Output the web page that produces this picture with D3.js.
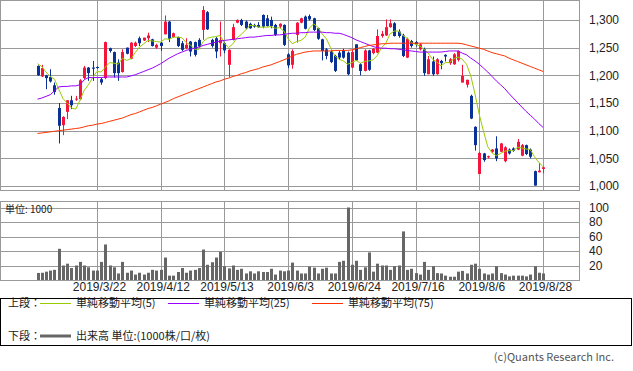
<!DOCTYPE html>
<html>
<head>
<meta charset="utf-8">
<script src="https://cdn.jsdelivr.net/npm/d3@7"></script>
<style>
  body { margin: 0; background: #fff; }
  svg { display: block; font-family: "Noto Sans CJK JP", "Noto Sans", sans-serif; }
</style>
</head>
<body>
<div class="chart"></div>
<script>
// trading days shown (2019/3/1 .. 2019/8/28)
const dates = [
  "2019/3/1","2019/3/4","2019/3/5","2019/3/6","2019/3/7","2019/3/8","2019/3/11","2019/3/12","2019/3/13","2019/3/14",
  "2019/3/15","2019/3/18","2019/3/19","2019/3/20","2019/3/22","2019/3/25","2019/3/26","2019/3/27","2019/3/28","2019/3/29",
  "2019/4/1","2019/4/2","2019/4/3","2019/4/4","2019/4/5","2019/4/8","2019/4/9","2019/4/10","2019/4/11","2019/4/12",
  "2019/4/15","2019/4/16","2019/4/17","2019/4/18","2019/4/19","2019/4/22","2019/4/23","2019/4/24","2019/4/25","2019/4/26",
  "2019/5/7","2019/5/8","2019/5/9","2019/5/10","2019/5/13","2019/5/14","2019/5/15","2019/5/16","2019/5/17","2019/5/20",
  "2019/5/21","2019/5/22","2019/5/23","2019/5/24","2019/5/27","2019/5/28","2019/5/29","2019/5/30","2019/5/31","2019/6/3",
  "2019/6/4","2019/6/5","2019/6/6","2019/6/7","2019/6/10","2019/6/11","2019/6/12","2019/6/13","2019/6/14","2019/6/17",
  "2019/6/18","2019/6/19","2019/6/20","2019/6/21","2019/6/24","2019/6/25","2019/6/26","2019/6/27","2019/6/28","2019/7/1",
  "2019/7/2","2019/7/3","2019/7/4","2019/7/5","2019/7/8","2019/7/9","2019/7/10","2019/7/11","2019/7/12","2019/7/16",
  "2019/7/17","2019/7/18","2019/7/19","2019/7/22","2019/7/23","2019/7/24","2019/7/25","2019/7/26","2019/7/29","2019/7/30",
  "2019/7/31","2019/8/1","2019/8/2","2019/8/5","2019/8/6","2019/8/7","2019/8/8","2019/8/9","2019/8/13","2019/8/14",
  "2019/8/15","2019/8/16","2019/8/19","2019/8/20","2019/8/21","2019/8/22","2019/8/23","2019/8/26","2019/8/27","2019/8/28"
];

const open = [
  1217,1198,1200,1197,1182,1141,1110,1134,1155,1157, 1157,1195,1214,1214,1215,1193,1195,1249,1242,1223,
  1206,1250,1230,1253,1267,1263,1267,1265,1250,1259, 1274,1297,1269,1269,1258,1249,1261,1260,1264,1282,
  1314,1264,1267,1258,1258,1219,1264,1295,1300,1297, 1293,1291,1291,1309,1303,1300,1291,1288,1291,1238,
  1219,1273,1295,1306,1307,1303,1285,1265,1247,1243, 1235,1241,1245,1241,1214,1256,1220,1208,1245,1240,
  1241,1271,1272,1287,1294,1279,1272,1232,1262,1260, 1247,1247,1202,1225,1202,1226,1237,1222,1220,1228,
  1187,1183,1163,1107,1022,1059,1052,1062,1068,1062, 1045,1066,1068,1066,1055,1074,1066,1027,1025,1031
];
const high = [
  1218,1219,1201,1211,1187,1150,1126,1155,1163,1163, 1193,1217,1215,1226,1216,1195,1261,1250,1243,1229,
  1247,1250,1260,1261,1270,1268,1277,1266,1257,1260, 1308,1298,1277,1270,1262,1267,1262,1261,1267,1325,
  1316,1266,1269,1297,1260,1247,1293,1301,1302,1299, 1295,1293,1296,1310,1309,1306,1293,1294,1292,1240,
  1247,1296,1304,1308,1310,1304,1286,1266,1249,1245, 1237,1244,1248,1243,1247,1256,1222,1247,1246,1249,
  1283,1280,1301,1301,1296,1283,1275,1268,1264,1262, 1258,1250,1235,1234,1231,1228,1238,1231,1240,1245,
  1219,1192,1165,1108,1062,1060,1055,1067,1090,1078, 1072,1068,1070,1085,1076,1075,1068,1028,1042,1035
];
const low = [
  1199,1197,1175,1187,1165,1077,1092,1121,1139,1154, 1155,1193,1190,1190,1212,1183,1193,1241,1196,1190,
  1205,1238,1229,1251,1253,1262,1260,1252,1248,1244, 1274,1260,1268,1251,1244,1247,1234,1234,1250,1264,
  1282,1250,1231,1234,1240,1197,1263,1294,1289,1283, 1284,1286,1286,1285,1288,1285,1271,1285,1253,1213,
  1212,1259,1294,1283,1299,1280,1264,1227,1229,1222, 1206,1228,1230,1200,1213,1226,1200,1207,1208,1238,
  1240,1268,1271,1286,1270,1268,1233,1231,1250,1252, 1245,1199,1202,1199,1201,1211,1225,1219,1219,1225,
  1187,1178,1121,1064,1022,1044,1050,1060,1045,1062, 1043,1057,1062,1065,1054,1056,1050,1001,1025,1023
];
const close = [
  1200,1213,1195,1189,1170,1109,1125,1155,1146,1158, 1191,1214,1204,1212,1214,1187,1260,1244,1204,1204,
  1242,1239,1259,1259,1258,1268,1272,1253,1255,1253, 1297,1266,1276,1253,1246,1255,1243,1237,1252,1318,
  1283,1253,1243,1264,1245,1246,1287,1300,1291,1285, 1285,1288,1287,1288,1289,1289,1273,1293,1255,1218,
  1244,1295,1303,1284,1301,1282,1266,1244,1235,1224, 1208,1232,1232,1202,1242,1227,1208,1245,1210,1248,
  1271,1275,1287,1294,1271,1271,1235,1266,1253,1256, 1256,1204,1229,1202,1229,1222,1234,1229,1238,1244,
  1199,1192,1122,1074,1060,1047,1054,1066,1050,1077, 1070,1059,1064,1080,1074,1058,1053,1001,1028,1034
];

// moving averages
const ma5 = [
  1221,1216,1206,1198,1193,1175,1158,1150,1141,1139, 1155,1173,1183,1196,1207,1206,1215,1223,1222,1220,
  1231,1227,1230,1241,1251,1257,1263,1262,1261,1260, 1266,1265,1269,1269,1268,1259,1255,1247,1247,1261,
  1267,1269,1270,1272,1258,1250,1257,1268,1274,1282, 1290,1290,1287,1287,1287,1288,1285,1286,1280,1266,
  1257,1261,1263,1269,1285,1293,1287,1275,1266,1250, 1235,1229,1226,1220,1223,1227,1222,1225,1226,1228,
  1236,1250,1258,1275,1280,1280,1272,1267,1259,1256, 1253,1247,1240,1229,1224,1217,1223,1223,1230,1233,
  1229,1220,1199,1166,1129,1099,1071,1060,1055,1059, 1063,1064,1064,1070,1069,1067,1066,1053,1043,1035
];
const ma25 = [
  1157,1159,1162,1165,1172,1179,1180,1180,1181,1181, 1183,1192,1196,1196,1196,1196,1197,1197,1197,1197,
  1197,1197,1199,1201,1204,1207,1210,1213,1217,1221, 1226,1231,1235,1239,1242,1245,1247,1249,1251,1254,
  1256,1258,1260,1262,1263,1264,1265,1266,1267,1268, 1269,1269,1270,1271,1272,1272,1273,1273,1274,1275,
  1276,1276,1277,1277,1278,1278,1278,1278,1277,1277, 1276,1276,1274,1271,1268,1264,1261,1258,1255,1252,
  1250,1249,1249,1248,1248,1247,1246,1245,1244,1243, 1242,1242,1242,1242,1242,1242,1243,1244,1244,1244,
  1240,1237,1231,1226,1220,1213,1206,1198,1190,1183, 1176,1167,1159,1151,1143,1135,1128,1121,1113,1106
];
const ma75 = [
  1095,1096,1097,1098,1099,1100,1101,1102,1103,1104, 1105,1107,1109,1110,1112,1113,1115,1117,1119,1121,
  1123,1126,1129,1131,1134,1137,1140,1142,1145,1148, 1151,1154,1158,1161,1164,1167,1170,1173,1176,1179,
  1182,1185,1188,1190,1193,1195,1198,1200,1203,1205, 1208,1210,1212,1215,1217,1219,1222,1225,1228,1231,
  1235,1238,1240,1242,1243,1244,1244,1244,1244,1244, 1245,1245,1245,1245,1246,1248,1250,1252,1254,1255,
  1256,1257,1257,1258,1258,1258,1258,1258,1258,1258, 1258,1258,1258,1258,1258,1258,1258,1258,1258,1258,
  1257,1255,1253,1251,1249,1247,1244,1241,1239,1237, 1235,1231,1228,1225,1222,1219,1216,1213,1210,1207
];

// volume, unit 1000
const volume = [
  9.7,10,11.5,13,14,43,20,22.5,16.5,20, 25,20,17.5,13,13,25,49,20,17.5,9,
  25,10,13,7.5,10,7.5,10,14,13,14, 31,6,6,11,16.5,10,13,14,16.5,42,
  21,24.5,31,39,19,16,20,14,15.5,9, 12,9,12,11,11,15.5,7.5,13,12,13,
  24,13,9,9,18.5,17,9,15.5,17,9, 9,25,26.5,100,21,26.5,14,17.5,38,11.5,
  22.5,20,20,14,19,20,67,14,15.5,9.5, 7.5,25,14,19,9.5,9,6,4.5,4.5,11.5,
  12.5,9,21,22.5,15.5,9,7.5,9,19,9.5, 7.5,5,6,6,6,5,7.5,19,10,9
];

const dateTicks = ["2019/3/22","2019/4/12","2019/5/13","2019/6/3","2019/6/24","2019/7/16","2019/8/6","2019/8/28"];
const priceTicks = [1000, 1050, 1100, 1150, 1200, 1250, 1300];
const volTicks = [20, 40, 60, 80, 100];

const width = 633, height = 371;
const plotW = 579;
const upColor = "#f5143c", downColor = "#0a3296";
const gridColor = "#999";

const svg = d3.select(".chart")
  .append("svg")
  .attr("width", width)
  .attr("height", height);

const x = d3.scalePoint().domain(dates).range([37.5, 543]);
const y = d3.scaleLinear().domain([993, 1336]).range([190, 0]);
const yv = d3.scaleLinear().domain([0, 100]).range([280, 207.5]);

const rows = dates.map((d, i) => ({
  date: d, o: open[i], h: high[i], l: low[i], c: close[i], v: volume[i]
}));

// ---- price panel grid
const upper = svg.append("g");
upper.append("g")
  .attr("transform", `translate(${plotW},0)`)
  .call(d3.axisRight(y).tickValues(priceTicks).tickSize(-plotW).tickPadding(10).tickFormat(d3.format(",")))
  .call(g => g.select(".domain").remove())
  .call(g => g.selectAll("line").attr("stroke", gridColor).attr("shape-rendering", "crispEdges"))
  .call(g => g.selectAll("text").attr("fill", "#222").style("font-size", "12px"));

upper.append("g")
  .attr("transform", "translate(0,190)")
  .call(d3.axisBottom(x).tickValues(dateTicks).tickSize(-190).tickFormat(""))
  .call(g => g.select(".domain").remove())
  .call(g => g.selectAll("line").attr("stroke", gridColor).attr("shape-rendering", "crispEdges"));

upper.append("rect")
  .attr("x", 0.5).attr("y", 0.5)
  .attr("width", plotW).attr("height", 190)
  .attr("fill", "none").attr("stroke", gridColor);

// candles
const candle = upper.selectAll(".candle")
  .data(rows)
  .join("g")
  .attr("class", "candle")
  .attr("fill", d => d.c >= d.o ? upColor : downColor)
  .attr("stroke", d => d.c >= d.o ? upColor : downColor);

candle.append("line")
  .attr("x1", d => Math.round(x(d.date)) + 0.5)
  .attr("x2", d => Math.round(x(d.date)) + 0.5)
  .attr("y1", d => y(d.h))
  .attr("y2", d => y(d.l))
  .attr("stroke-width", 1);

candle.append("rect")
  .attr("x", d => Math.round(x(d.date)) - 1)
  .attr("width", 3)
  .attr("y", d => y(Math.max(d.o, d.c)))
  .attr("height", d => Math.max(1, Math.abs(y(d.o) - y(d.c))))
  .attr("stroke", "none");

// moving averages
const maLine = arr => d3.line()
  .x((d, i) => x(dates[i]))
  .y(d => y(d))(arr);

const maSeries = [
  { name: "単純移動平均(5)", values: ma5, color: "#99cc00" },
  { name: "単純移動平均(25)", values: ma25, color: "#9900ff" },
  { name: "単純移動平均(75)", values: ma75, color: "#ff3300" }
];

upper.selectAll(".ma")
  .data(maSeries)
  .join("path")
  .attr("class", "ma")
  .attr("d", d => maLine(d.values))
  .attr("fill", "none")
  .attr("stroke", d => d.color)
  .attr("stroke-width", 1);

// ---- volume panel
const lower = svg.append("g");
lower.append("g")
  .attr("transform", `translate(${plotW},0)`)
  .call(d3.axisRight(yv).tickValues(volTicks).tickSize(-plotW).tickPadding(10))
  .call(g => g.select(".domain").remove())
  .call(g => g.selectAll("line").attr("stroke", gridColor).attr("shape-rendering", "crispEdges"))
  .call(g => g.selectAll("text").attr("fill", "#222").style("font-size", "12px"));

lower.append("g")
  .attr("transform", "translate(0,280)")
  .call(d3.axisBottom(x).tickValues(dateTicks).tickSize(-79).tickPadding(2))
  .call(g => g.select(".domain").remove())
  .call(g => g.selectAll("line").attr("stroke", gridColor).attr("shape-rendering", "crispEdges"))
  .call(g => g.selectAll("text").attr("fill", "#222").style("font-size", "12px").attr("dx", "2"));

lower.append("rect")
  .attr("x", 0.5).attr("y", 201.5)
  .attr("width", plotW).attr("height", 79)
  .attr("fill", "none").attr("stroke", gridColor);

lower.selectAll(".vol")
  .data(rows)
  .join("rect")
  .attr("class", "vol")
  .attr("x", d => Math.round(x(d.date)) - 1)
  .attr("width", 3)
  .attr("y", d => yv(d.v))
  .attr("height", d => yv(0) - yv(d.v))
  .attr("fill", "#666");

lower.append("text")
  .attr("x", 5).attr("y", 212.5)
  .attr("fill", "#222")
  .style("font-size", "10px")
  .text("単位: 1000");

// ---- legend
const legend = svg.append("g");
legend.append("rect")
  .attr("x", 0.5).attr("y", 298.5)
  .attr("width", 631).attr("height", 47)
  .attr("fill", "none").attr("stroke", "#000");

legend.append("text")
  .attr("x", 8).attr("y", 307)
  .style("font-size", "11px").attr("fill", "#222")
  .text("上段：");

const legX = [40, 168, 312];
maSeries.forEach((s, i) => {
  legend.append("line")
    .attr("x1", legX[i]).attr("x2", legX[i] + 31)
    .attr("y1", 303.5).attr("y2", 303.5)
    .attr("stroke", s.color);
  legend.append("text")
    .attr("x", legX[i] + 36).attr("y", 307)
    .style("font-size", "11px").attr("fill", "#222")
    .text(s.name);
});

legend.append("text")
  .attr("x", 8).attr("y", 340)
  .style("font-size", "11px").attr("fill", "#222")
  .text("下段：");
legend.append("line")
  .attr("x1", 40).attr("x2", 71)
  .attr("y1", 336).attr("y2", 336)
  .attr("stroke", "#666").attr("stroke-width", 3);
legend.append("text")
  .attr("x", 76).attr("y", 340)
  .style("font-size", "11px").attr("fill", "#222")
  .text("出来高 単位:(1000株/口/枚)");

svg.append("text")
  .attr("x", 614).attr("y", 361)
  .attr("text-anchor", "end")
  .style("font-size", "11px")
  .attr("fill", "#555")
  .text("(c)Quants Research Inc.");
</script>
</body>
</html>
